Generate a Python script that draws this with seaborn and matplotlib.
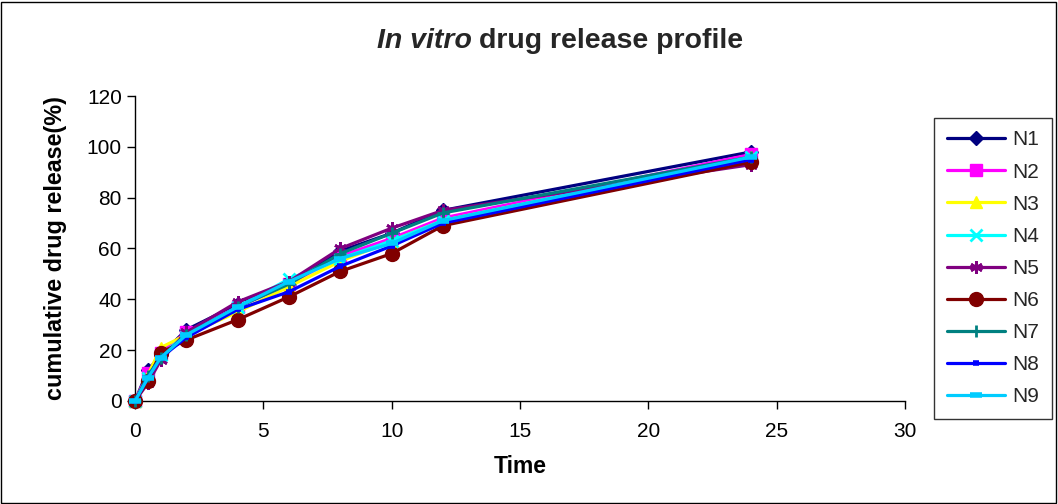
import numpy as np
import pandas as pd
import matplotlib
matplotlib.use("Agg")
import matplotlib.pyplot as plt
import seaborn as sns

# dados (tempo em horas, liberacao acumulada em %)
time = [0, 0.5, 1, 2, 4, 6, 8, 10, 12, 24]
n1 = [0, 12, 18, 28, 38, 46, 59, 66, 75, 98]
n2 = [0, 11, 19, 27, 37, 46, 57, 64, 72, 97]
n3 = [0, 10, 21, 26, 35, 45, 55, 63, 71, 96]
n4 = [0, 9, 18, 26, 37, 48, 56, 63, 71, 96]
n5 = [0, 7, 16, 27, 39, 47, 60, 68, 75, 93]
n6 = [0, 8, 19, 24, 32, 41, 51, 58, 69, 94]
n7 = [0, 10, 17, 26, 37, 46, 58, 66, 74, 96]
n8 = [0, 9, 17, 25, 36, 43, 53, 61, 70, 95]
n9 = [0, 9, 17, 26, 37, 47, 56, 62, 71, 96]

labels = ["N1", "N2", "N3", "N4", "N5", "N6", "N7", "N8", "N9"]
series = [n1, n2, n3, n4, n5, n6, n7, n8, n9]
colors = ["#000080", "#FF00FF", "#FFFF00", "#00FFFF", "#800080",
          "#800000", "#008080", "#0000FF", "#00CCFF"]
# estilo dos marcadores (marker, tamanho, espessura)
markers = [("D", 7, 1), ("s", 8, 1), ("^", 8, 1), ("x", 8, 2), ((6, 2, 0), 9, 2),
           ("o", 10, 1), ("+", 9, 2), ("_", 5, 4), ("_", 9, 4)]

sns.set_style("white")
plt.rcParams["font.family"] = ["Liberation Sans", "DejaVu Sans"]

fig = plt.figure(figsize=(10.58, 5.04), dpi=100)
ax = fig.add_axes([0.1276, 0.2044, 0.8554 - 0.1276, 0.8095 - 0.2044])

for lab, vals, col, (mk, ms, mew) in zip(labels, series, colors, markers):
    sns.lineplot(x=time, y=vals, ax=ax, color=col, marker=mk, markersize=ms,
                 markeredgewidth=mew, markeredgecolor=col, linewidth=2.3,
                 label=lab, clip_on=False, zorder=3)

ax.set_xlim(0, 30)
ax.set_ylim(0, 120)
ax.set_xticks(range(0, 31, 5))
ax.set_yticks(range(0, 121, 20))
ax.tick_params(axis="both", direction="out", length=6, width=1, labelsize=15,
               bottom=True, left=True, color="black", labelcolor="black")
ax.tick_params(axis="x", pad=9)
sns.despine(ax=ax)
for s in ["left", "bottom"]:
    ax.spines[s].set_color("black")
    ax.spines[s].set_linewidth(1)
ax.set_xlabel("Time", fontsize=16.5, fontweight="bold", labelpad=10, color="black")
ax.set_ylabel("cumulative drug release(%)", fontsize=16.8, fontweight="bold",
              labelpad=14, color="black")

ax.get_legend().remove()
h, l = ax.get_legend_handles_labels()
leg = fig.legend(h, l, loc="upper left", bbox_to_anchor=(0.883, 0.766),
                 fontsize=15, frameon=True, fancybox=False, edgecolor="black",
                 handlelength=2.8, labelspacing=0.63, borderpad=0.6,
                 handletextpad=0.35, borderaxespad=0)
leg.get_frame().set_linewidth(1)

# titulo com "In vitro" em italico
t1 = fig.text(0.453, 0.918, "In vitro ", fontsize=20.5, fontweight="bold",
              style="italic", ha="right", va="center")
fig.text(0.453, 0.918, "drug release profile", fontsize=20.5, fontweight="bold",
         ha="left", va="center")

# moldura externa
fig.patches.append(plt.Rectangle((0.001, 0.002), 0.997, 0.995, transform=fig.transFigure,
                                 fill=False, edgecolor="black", linewidth=1))

fig.savefig("out.png", dpi=100)
